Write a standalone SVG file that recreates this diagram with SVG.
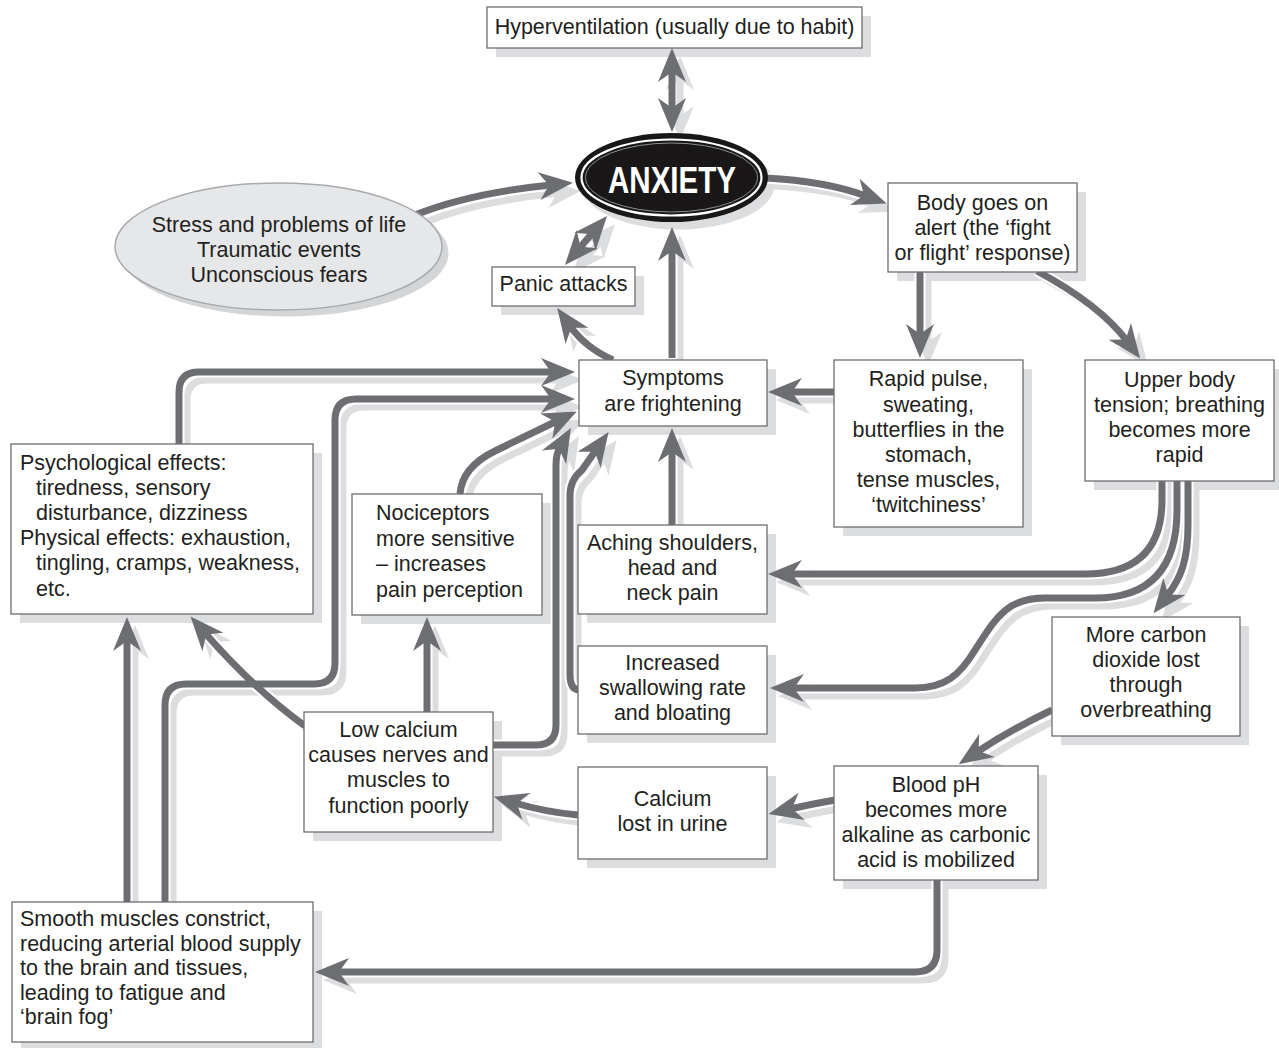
<svg xmlns="http://www.w3.org/2000/svg" xmlns:xlink="http://www.w3.org/1999/xlink" width="1279" height="1048" viewBox="0 0 1279 1048">
  <defs>
    <style>
      .sh { fill: #dcddde; }
      .box { fill: #ffffff; stroke: #6d6e71; stroke-width: 1.3; }
      .t { font-family: "Liberation Sans", Arial, Helvetica, sans-serif; font-size: 21.5px; fill: #231f20; }
      .m { text-anchor: middle; }
      .csh { fill: none; stroke: #dcddde; stroke-width: 7; marker-end: url(#mS); }
      .csh2 { marker-start: url(#mS); }
      .chalo { fill: none; stroke: #ffffff; stroke-width: 11; }
      .cln { fill: none; stroke: #6d6e71; stroke-width: 7; marker-end: url(#mD); }
      .cln2 { marker-start: url(#mD); }
    </style>
    <!-- barbed arrowheads: dark for the line, light for its drop shadow -->
    <marker id="mD" markerUnits="userSpaceOnUse" orient="auto-start-reverse" refX="0" refY="0" markerWidth="1" markerHeight="1" overflow="visible">
      <path d="M22 0 L-12 -14 L-2 0 L-12 14 Z" fill="#6d6e71"/>
    </marker>
    <marker id="mS" markerUnits="userSpaceOnUse" orient="auto-start-reverse" refX="0" refY="0" markerWidth="1" markerHeight="1" overflow="visible">
      <path d="M22 0 L-12 -14 L-2 0 L-12 14 Z" fill="#dcddde"/>
    </marker>

    <!-- connector geometry, drawn three times: shadow, white halo, line -->
    <path id="e-hyper-anx" d="M672 70 L672 110"/>
    <path id="e-stress-anx" d="M415 215 Q470 193 551 185"/>
    <path id="e-anx-alert" d="M766 178 Q825 181 866 196"/>
    <path id="e-panic-anx" d="M579.3 248.3 L592.7 232.7"/>
    <path id="e-sym-panic" d="M613 360 C595 352 580 340 570 326"/>
    <path id="e-sym-anx" d="M672 358 L672 249"/>
    <path id="e-alert-pulse" d="M920 271 L920 336"/>
    <path id="e-alert-upper" d="M1037 271 Q1100 305 1127 341"/>
    <path id="e-pulse-sym" d="M836 392 L790 392"/>
    <path id="e-psych-sym" d="M179 444 L179 392 Q179 372 199 372 L553 372"/>
    <path id="e-smooth-sym" d="M165 903 L165 705 Q165 684 186 684 L314 684 Q335 684 335 663 L335 420 Q335 399 356 399 L553 399"/>
    <path id="e-smooth-psych" d="M127 903 L127 639"/>
    <path id="e-lowca-psych" d="M305 726 Q255 690 205 633"/>
    <path id="e-lowca-noci" d="M427 712 L427 639"/>
    <path id="e-noci-sym" d="M460 494 Q462 467 495 451 L557 421"/>
    <path id="e-lowca-sym" d="M493 745 L536 745 Q556 745 556 725 L556 465 Q556 454 560 447"/>
    <path id="e-swallow-sym" d="M580 690 Q570 690 570 675 L570 495 Q570 480 582 470 L596 450"/>
    <path id="e-aching-sym" d="M672 525 L672 450"/>
    <path id="e-upper-aching" d="M1162 480 L1162 500 Q1162 574 1085 574 L790 574"/>
    <path id="e-upper-swallow" d="M1177 480 L1177 510 Q1177 598 1095 598 L1045 598 C1005 598 995 620 975 650 C960 675 945 688 915 688 L792 688"/>
    <path id="e-upper-co2" d="M1188 480 L1188 525 C1188 560 1181 578 1167 596"/>
    <path id="e-co2-ph" d="M1052 710 Q1010 730 977 752"/>
    <path id="e-ph-urine" d="M835 800 Q812 804 790 809"/>
    <path id="e-urine-lowca" d="M578 815 Q545 812 515 803"/>
    <path id="e-ph-smooth" d="M937 880 L937 950 Q937 972 915 972 L337 972"/>
  </defs>

  <rect width="1279" height="1048" fill="#ffffff"/>

  <!-- drop shadows of the nodes -->
  <g id="node-shadows" class="sh">
    <rect x="496" y="16" width="375" height="41"/>
    <ellipse cx="678" cy="185" rx="96.5" ry="44.5"/>
    <ellipse cx="285" cy="253" rx="163.5" ry="63.5" fill="#d4d5d7"/>
    <rect x="897" y="192" width="189" height="89"/>
    <rect x="501" y="276" width="143" height="39"/>
    <rect x="588" y="369" width="188" height="66"/>
    <rect x="843" y="369" width="189" height="167"/>
    <rect x="1094" y="369" width="189" height="121"/>
    <rect x="20" y="453" width="302" height="170"/>
    <rect x="361" y="503" width="190" height="121"/>
    <rect x="587" y="534" width="189" height="89"/>
    <rect x="587" y="655" width="189" height="88"/>
    <rect x="1061" y="626" width="188" height="119"/>
    <rect x="313" y="721" width="189" height="120"/>
    <rect x="587" y="776" width="189" height="92"/>
    <rect x="843" y="775" width="204" height="114"/>
    <rect x="21" y="911" width="301" height="140"/>
  </g>

  <g id="connectors">
    <g id="connector-shadows" class="csh" transform="translate(8 8)">
      <use xlink:href="#e-hyper-anx" class="csh2"/>
      <use xlink:href="#e-stress-anx"/>
      <use xlink:href="#e-anx-alert"/>
      <use xlink:href="#e-panic-anx" class="csh2"/>
      <use xlink:href="#e-sym-panic"/>
      <use xlink:href="#e-sym-anx"/>
      <use xlink:href="#e-alert-pulse"/>
      <use xlink:href="#e-alert-upper"/>
      <use xlink:href="#e-pulse-sym"/>
      <use xlink:href="#e-psych-sym"/>
      <use xlink:href="#e-smooth-sym"/>
      <use xlink:href="#e-smooth-psych"/>
      <use xlink:href="#e-lowca-psych"/>
      <use xlink:href="#e-lowca-noci"/>
      <use xlink:href="#e-noci-sym"/>
      <use xlink:href="#e-lowca-sym"/>
      <use xlink:href="#e-swallow-sym"/>
      <use xlink:href="#e-aching-sym"/>
      <use xlink:href="#e-upper-aching"/>
      <use xlink:href="#e-upper-swallow"/>
      <use xlink:href="#e-upper-co2"/>
      <use xlink:href="#e-co2-ph"/>
      <use xlink:href="#e-ph-urine"/>
      <use xlink:href="#e-urine-lowca"/>
      <use xlink:href="#e-ph-smooth"/>
    </g>
    <g id="connector-halos" class="chalo">
      <use xlink:href="#e-stress-anx"/>
      <use xlink:href="#e-anx-alert"/>
      <use xlink:href="#e-sym-panic"/>
      <use xlink:href="#e-sym-anx"/>
      <use xlink:href="#e-alert-pulse"/>
      <use xlink:href="#e-alert-upper"/>
      <use xlink:href="#e-pulse-sym"/>
      <use xlink:href="#e-psych-sym"/>
      <use xlink:href="#e-smooth-sym"/>
      <use xlink:href="#e-smooth-psych"/>
      <use xlink:href="#e-lowca-psych"/>
      <use xlink:href="#e-lowca-noci"/>
      <use xlink:href="#e-noci-sym"/>
      <use xlink:href="#e-lowca-sym"/>
      <use xlink:href="#e-swallow-sym"/>
      <use xlink:href="#e-aching-sym"/>
      <use xlink:href="#e-upper-aching"/>
      <use xlink:href="#e-upper-swallow"/>
      <use xlink:href="#e-upper-co2"/>
      <use xlink:href="#e-co2-ph"/>
      <use xlink:href="#e-ph-urine"/>
      <use xlink:href="#e-urine-lowca"/>
      <use xlink:href="#e-ph-smooth"/>
    </g>
    <g id="connector-lines" class="cln">
      <use xlink:href="#e-hyper-anx" class="cln2"/>
      <use xlink:href="#e-stress-anx"/>
      <use xlink:href="#e-anx-alert"/>
      <use xlink:href="#e-panic-anx" class="cln2"/>
      <use xlink:href="#e-sym-panic"/>
      <use xlink:href="#e-sym-anx"/>
      <use xlink:href="#e-alert-pulse"/>
      <use xlink:href="#e-alert-upper"/>
      <use xlink:href="#e-pulse-sym"/>
      <use xlink:href="#e-psych-sym"/>
      <use xlink:href="#e-smooth-sym"/>
      <use xlink:href="#e-smooth-psych"/>
      <use xlink:href="#e-lowca-psych"/>
      <use xlink:href="#e-lowca-noci"/>
      <use xlink:href="#e-noci-sym"/>
      <use xlink:href="#e-lowca-sym"/>
      <use xlink:href="#e-swallow-sym"/>
      <use xlink:href="#e-aching-sym"/>
      <use xlink:href="#e-upper-aching"/>
      <use xlink:href="#e-upper-swallow"/>
      <use xlink:href="#e-upper-co2"/>
      <use xlink:href="#e-co2-ph"/>
      <use xlink:href="#e-ph-urine"/>
      <use xlink:href="#e-urine-lowca"/>
      <use xlink:href="#e-ph-smooth"/>
    </g>
  </g>

  <g id="n-hyperventilation">
    <rect class="box" x="487" y="7" width="375" height="41"/>
    <text class="t m" x="674.5" y="34">Hyperventilation (usually due to habit)</text>
  </g>

  <g id="n-anxiety">
    <ellipse cx="671.5" cy="177.5" rx="96.5" ry="44.5" fill="#1a1718"/>
    <ellipse cx="671.5" cy="177.5" rx="90" ry="38" fill="none" stroke="#ffffff" stroke-width="2.2"/>
    <ellipse cx="671.5" cy="177.5" rx="86" ry="34.5" fill="none" stroke="#8a8a8c" stroke-width="1"/>
    <text x="672" y="193" text-anchor="middle" font-family="'Liberation Sans', Arial, sans-serif" font-weight="bold" font-size="36" fill="#ffffff" textLength="128" lengthAdjust="spacingAndGlyphs">ANXIETY</text>
  </g>

  <g id="n-stress">
    <ellipse cx="278.5" cy="246.5" rx="163.5" ry="63.5" fill="#e6e7e8" stroke="#a7a9ac" stroke-width="1.5"/>
    <text class="t m" x="279" y="232">Stress and problems of life</text>
    <text class="t m" x="279" y="257">Traumatic events</text>
    <text class="t m" x="279" y="282">Unconscious fears</text>
  </g>

  <g id="n-alert">
    <rect class="box" x="888" y="183" width="189" height="89"/>
    <text class="t m" x="982.5" y="209.5">Body goes on</text>
    <text class="t m" x="982.5" y="234.5">alert (the ‘fight</text>
    <text class="t m" x="982.5" y="260">or flight’ response)</text>
  </g>

  <g id="n-panic">
    <rect class="box" x="492" y="267" width="143" height="39"/>
    <text class="t m" x="563.5" y="291">Panic attacks</text>
  </g>

  <g id="n-symptoms">
    <rect class="box" x="579" y="360" width="188" height="66"/>
    <text class="t m" x="673" y="385">Symptoms</text>
    <text class="t m" x="673" y="411">are frightening</text>
  </g>

  <g id="n-pulse">
    <rect class="box" x="834" y="360" width="189" height="167"/>
    <text class="t m" x="928.5" y="386">Rapid pulse,</text>
    <text class="t m" x="928.5" y="411.5">sweating,</text>
    <text class="t m" x="928.5" y="436.5">butterflies in the</text>
    <text class="t m" x="928.5" y="462">stomach,</text>
    <text class="t m" x="928.5" y="487">tense muscles,</text>
    <text class="t m" x="928.5" y="512">‘twitchiness’</text>
  </g>

  <g id="n-upper">
    <rect class="box" x="1085" y="360" width="189" height="121"/>
    <text class="t m" x="1179.5" y="386.5">Upper body</text>
    <text class="t m" x="1179.5" y="411.5">tension; breathing</text>
    <text class="t m" x="1179.5" y="436.5">becomes more</text>
    <text class="t m" x="1179.5" y="461.5">rapid</text>
  </g>

  <g id="n-psych">
    <rect class="box" x="11" y="444" width="302" height="170"/>
    <text class="t" x="20" y="470">Psychological effects:</text>
    <text class="t" x="36" y="495">tiredness, sensory</text>
    <text class="t" x="36" y="520">disturbance, dizziness</text>
    <text class="t" x="20" y="545">Physical effects: exhaustion,</text>
    <text class="t" x="36" y="570">tingling, cramps, weakness,</text>
    <text class="t" x="36" y="596">etc.</text>
  </g>

  <g id="n-nociceptors">
    <rect class="box" x="352" y="494" width="190" height="121"/>
    <text class="t" x="376" y="520">Nociceptors</text>
    <text class="t" x="376" y="545.5">more sensitive</text>
    <text class="t" x="376" y="571">– increases</text>
    <text class="t" x="376" y="596.5">pain perception</text>
  </g>

  <g id="n-aching">
    <rect class="box" x="578" y="525" width="189" height="89"/>
    <text class="t m" x="672.5" y="550">Aching shoulders,</text>
    <text class="t m" x="672.5" y="575">head and</text>
    <text class="t m" x="672.5" y="600">neck pain</text>
  </g>

  <g id="n-swallowing">
    <rect class="box" x="578" y="646" width="189" height="88"/>
    <text class="t m" x="672.5" y="670">Increased</text>
    <text class="t m" x="672.5" y="695">swallowing rate</text>
    <text class="t m" x="672.5" y="720">and bloating</text>
  </g>

  <g id="n-co2">
    <rect class="box" x="1052" y="617" width="188" height="119"/>
    <text class="t m" x="1146" y="642">More carbon</text>
    <text class="t m" x="1146" y="667">dioxide lost</text>
    <text class="t m" x="1146" y="692">through</text>
    <text class="t m" x="1146" y="717">overbreathing</text>
  </g>

  <g id="n-lowcalcium">
    <rect class="box" x="304" y="712" width="189" height="120"/>
    <text class="t m" x="398.5" y="737">Low calcium</text>
    <text class="t m" x="398.5" y="762">causes nerves and</text>
    <text class="t m" x="398.5" y="787">muscles to</text>
    <text class="t m" x="398.5" y="812.5">function poorly</text>
  </g>

  <g id="n-urine">
    <rect class="box" x="578" y="767" width="189" height="92"/>
    <text class="t m" x="672.5" y="806">Calcium</text>
    <text class="t m" x="672.5" y="831">lost in urine</text>
  </g>

  <g id="n-ph">
    <rect class="box" x="834" y="766" width="204" height="114"/>
    <text class="t m" x="936" y="792">Blood pH</text>
    <text class="t m" x="936" y="817">becomes more</text>
    <text class="t m" x="936" y="842">alkaline as carbonic</text>
    <text class="t m" x="936" y="867">acid is mobilized</text>
  </g>

  <g id="n-smooth">
    <rect class="box" x="12" y="902" width="301" height="140"/>
    <text class="t" x="20" y="926">Smooth muscles constrict,</text>
    <text class="t" x="20" y="950.5">reducing arterial blood supply</text>
    <text class="t" x="20" y="975">to the brain and tissues,</text>
    <text class="t" x="20" y="999.5">leading to fatigue and</text>
    <text class="t" x="20" y="1024">‘brain fog’</text>
  </g>
</svg>
